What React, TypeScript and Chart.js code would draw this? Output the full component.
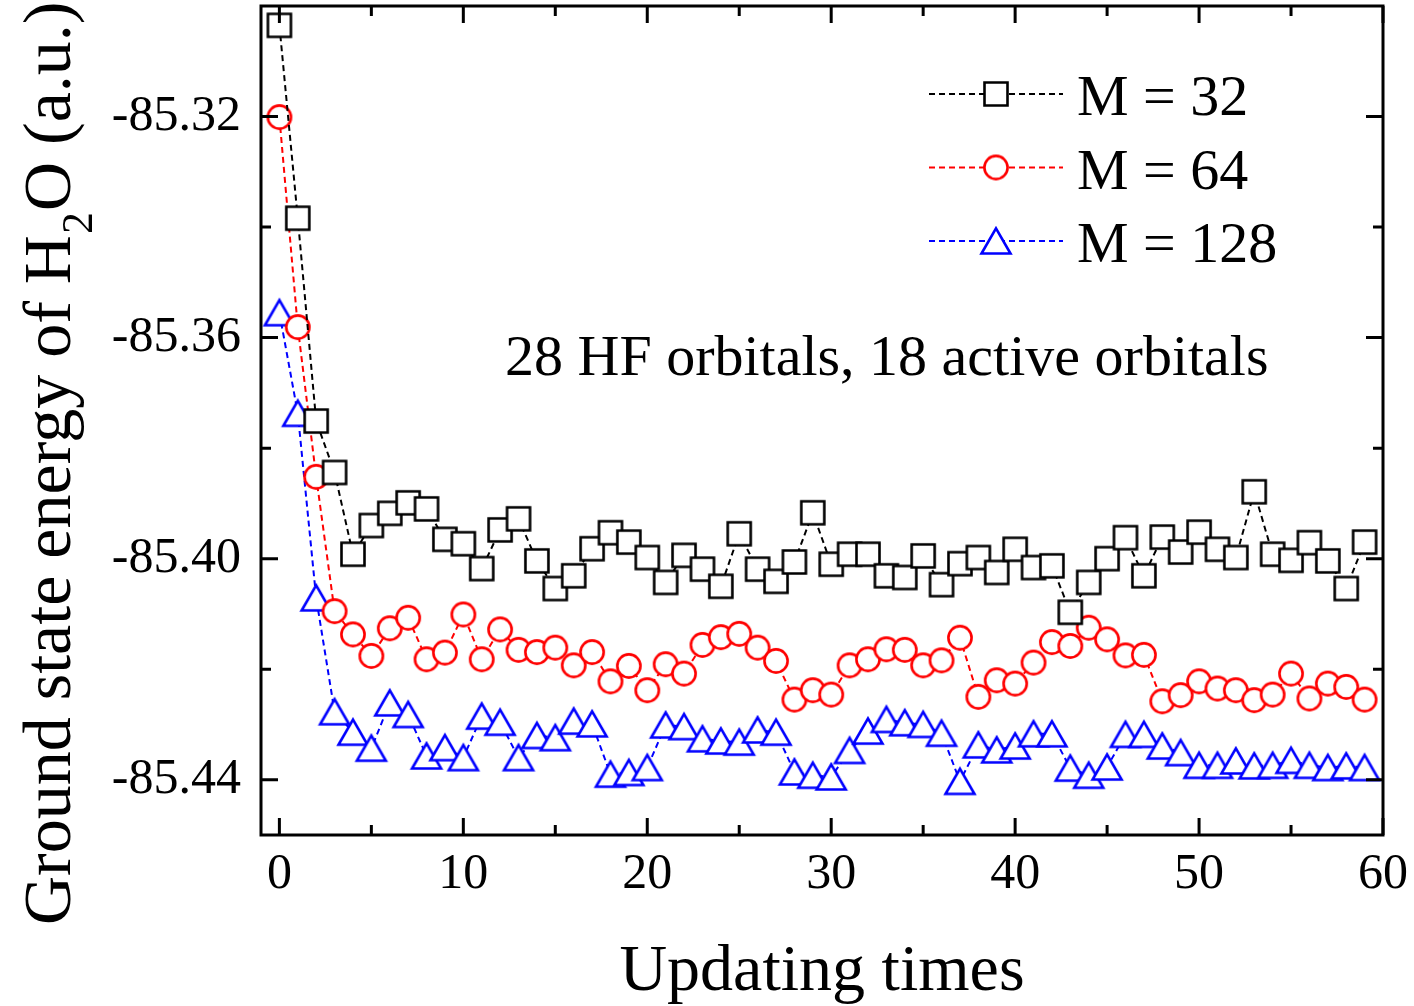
import React, { useEffect, useRef } from "react";
import { Chart, registerables } from "chart.js";

Chart.register(...registerables);

// Updating step index (0..59)
const steps: number[] = Array.from({ length: 60 }, (_, i) => i);

// Ground state energies (a.u.) for each bond dimension M
const energyM32: number[] = [
  -85.3035, -85.3384, -85.3751, -85.3844, -85.3992, -85.3940, -85.3918, -85.3899, -85.3910, -85.3965,
  -85.3973, -85.4018, -85.3948, -85.3928, -85.4004, -85.4054, -85.4031, -85.3982, -85.3953, -85.3970,
  -85.3998, -85.4043, -85.3994, -85.4019, -85.4050, -85.3955, -85.4019, -85.4041, -85.4006, -85.3917,
  -85.4010, -85.3992, -85.3992, -85.4031, -85.4034, -85.3995, -85.4047, -85.4009, -85.3998, -85.4025,
  -85.3983, -85.4016, -85.4013, -85.4097, -85.4043, -85.4000, -85.3962, -85.4031, -85.3961, -85.3988,
  -85.3952, -85.3983, -85.3998, -85.3879, -85.3992, -85.4003, -85.3971, -85.4004, -85.4054, -85.3970,
];
const energyM64: number[] = [
  -85.3201, -85.3581, -85.3852, -85.4095, -85.4137, -85.4176, -85.4126, -85.4107, -85.4182, -85.4170,
  -85.4101, -85.4182, -85.4128, -85.4165, -85.4169, -85.4161, -85.4193, -85.4169, -85.4222, -85.4194,
  -85.4238, -85.4191, -85.4208, -85.4156, -85.4142, -85.4136, -85.4161, -85.4185, -85.4255, -85.4238,
  -85.4246, -85.4193, -85.4182, -85.4164, -85.4165, -85.4193, -85.4184, -85.4143, -85.4250, -85.4220,
  -85.4226, -85.4188, -85.4151, -85.4158, -85.4125, -85.4146, -85.4175, -85.4174, -85.4258, -85.4247,
  -85.4222, -85.4235, -85.4238, -85.4256, -85.4246, -85.4208, -85.4253, -85.4226, -85.4232, -85.4255,
];
const energyM128: number[] = [
  -85.3555, -85.3737, -85.4071, -85.4277, -85.4314, -85.4343, -85.4261, -85.4282, -85.4357, -85.4342,
  -85.4360, -85.4285, -85.4296, -85.4360, -85.4320, -85.4324, -85.4294, -85.4299, -85.4390, -85.4387,
  -85.4378, -85.4301, -85.4304, -85.4326, -85.4330, -85.4332, -85.4310, -85.4314, -85.4386, -85.4392,
  -85.4395, -85.4347, -85.4312, -85.4291, -85.4297, -85.4300, -85.4316, -85.4403, -85.4337, -85.4346,
  -85.4339, -85.4317, -85.4317, -85.4379, -85.4392, -85.4377, -85.4318, -85.4318, -85.4339, -85.4351,
  -85.4374, -85.4374, -85.4366, -85.4375, -85.4374, -85.4365, -85.4374, -85.4378, -85.4375, -85.4378,
];

const seriesLabels: string[] = ["M = 32", "M = 64", "M = 128"];
const seriesColors: string[] = ["#000000", "#ff0000", "#0000ff"];
const seriesMarkers: ("square" | "circle" | "triangle")[] = ["square", "circle", "triangle"];

// Axis ticks
const xMajorTicks: number[] = [0, 10, 20, 30, 40, 50, 60];
const xMinorTicks: number[] = [5, 15, 25, 35, 45, 55];
const yMajorTicks: number[] = [-85.44, -85.40, -85.36, -85.32];
const yMinorTicks: number[] = [-85.42, -85.38, -85.34];

const annotationText = "28 HF orbitals, 18 active orbitals";
const SERIF = "'Liberation Serif', 'Times New Roman', serif";

// Hollow (white filled) marker drawn into a small canvas, centred on its bounding box
function makeMarker(kind: "square" | "circle" | "triangle", color: string): HTMLCanvasElement {
  const c = document.createElement("canvas");
  c.width = 40;
  c.height = 40;
  const g = c.getContext("2d")!;
  g.lineWidth = 2.6;
  g.strokeStyle = color;
  g.fillStyle = "#ffffff";
  g.lineJoin = "miter";
  g.beginPath();
  if (kind === "square") {
    g.rect(20 - 11.5, 20 - 11.5, 23, 23);
  } else if (kind === "circle") {
    g.arc(20, 20, 11.6, 0, Math.PI * 2);
  } else {
    const w = 29;
    const h = w * 0.866;
    g.moveTo(20, 20 - h / 2);
    g.lineTo(20 + w / 2, 20 + h / 2);
    g.lineTo(20 - w / 2, 20 + h / 2);
    g.closePath();
  }
  g.fill();
  g.stroke();
  return c;
}

const noPadding = (s: any) => {
  s.paddingTop = 0;
  s.paddingBottom = 0;
  s.paddingLeft = 0;
  s.paddingRight = 0;
};

export default function App() {
  const canvasRef = useRef<HTMLCanvasElement | null>(null);

  useEffect(() => {
    const canvas = canvasRef.current;
    if (!canvas) return;

    const markers = seriesMarkers.map((m, i) => makeMarker(m, seriesColors[i]));
    const seriesValues = [energyM32, energyM64, energyM128];

    const framePlugin = {
      id: "frameAndText",
      afterDatasetsDraw(chart: any) {
        const { ctx, chartArea } = chart;
        const { left, right, top, bottom } = chartArea;
        const xs = chart.scales.x;
        const ys = chart.scales.y;
        ctx.save();
        ctx.strokeStyle = "#000";
        ctx.lineWidth = 3;
        ctx.lineCap = "butt";
        // inward tick marks on all four sides
        const tick = (vals: number[], len: number, horiz: boolean) => {
          vals.forEach((v) => {
            ctx.beginPath();
            if (horiz) {
              const px = xs.getPixelForValue(v);
              ctx.moveTo(px, bottom);
              ctx.lineTo(px, bottom - len);
              ctx.moveTo(px, top);
              ctx.lineTo(px, top + len);
            } else {
              const py = ys.getPixelForValue(v);
              ctx.moveTo(left, py);
              ctx.lineTo(left + len, py);
              ctx.moveTo(right, py);
              ctx.lineTo(right - len, py);
            }
            ctx.stroke();
          });
        };
        tick(xMajorTicks, 17, true);
        tick(xMinorTicks, 10, true);
        tick(yMajorTicks, 17, false);
        tick(yMinorTicks, 10, false);
        ctx.strokeRect(left, top, right - left, bottom - top);

        // axis titles
        ctx.fillStyle = "#000";
        ctx.textBaseline = "alphabetic";
        ctx.font = `66px ${SERIF}`;
        ctx.textAlign = "center";
        ctx.fillText("Updating times", (left + right) / 2, 990);

        ctx.save();
        ctx.translate(70, 925);
        ctx.rotate(-Math.PI / 2);
        ctx.textAlign = "left";
        ctx.font = `68px ${SERIF}`;
        const partA = "Ground state energy of H";
        ctx.fillText(partA, 0, 0);
        let off = ctx.measureText(partA).width + 1;
        ctx.font = `44px ${SERIF}`;
        ctx.fillText("2", off, 22);
        off += ctx.measureText("2").width + 1;
        ctx.font = `68px ${SERIF}`;
        ctx.fillText("O (a.u.)", off, 0);
        ctx.restore();

        // annotation
        ctx.font = `58px ${SERIF}`;
        ctx.textAlign = "left";
        ctx.fillText(annotationText, 505, 375);

        // legend
        chart.data.datasets.forEach((ds: any, i: number) => {
          const y = 94 + i * 73.5;
          ctx.save();
          ctx.strokeStyle = ds.borderColor;
          ctx.lineWidth = 2;
          ctx.setLineDash([6, 4]);
          ctx.beginPath();
          ctx.moveTo(929, y);
          ctx.lineTo(1063, y);
          ctx.stroke();
          ctx.restore();
          const img = markers[i];
          ctx.drawImage(img, 996 - img.width / 2, y - img.height / 2);
          ctx.fillStyle = "#000";
          ctx.font = `58px ${SERIF}`;
          ctx.textAlign = "left";
          ctx.fillText(ds.label, 1077, y + 21);
        });
        ctx.restore();
      },
    };

    const chart = new Chart(canvas, {
      type: "line",
      data: {
        datasets: seriesLabels.map((label, i) => ({
          label,
          data: steps.map((s, k) => ({ x: s, y: seriesValues[i][k] })),
          borderColor: seriesColors[i],
          backgroundColor: seriesColors[i],
          borderWidth: 2,
          borderDash: [6, 4],
          tension: 0,
          pointStyle: markers[i],
          pointRadius: 12,
          pointHoverRadius: 12,
          fill: false,
        })),
      },
      options: {
        responsive: false,
        animation: false,
        events: [],
        layout: { autoPadding: false, padding: { left: 0, right: 31, top: 6, bottom: 0 } },
        plugins: {
          legend: { display: false },
          tooltip: { enabled: false },
        },
        scales: {
          x: {
            type: "linear",
            min: -1,
            max: 60,
            grid: { display: false, drawTicks: false },
            border: { display: false },
            afterBuildTicks: (s: any) => {
              s.ticks = xMajorTicks.map((value) => ({ value }));
            },
            afterFit: (s: any) => {
              s.height = 171;
              noPadding(s);
            },
            ticks: {
              padding: 10,
              color: "#000",
              maxRotation: 0,
              autoSkip: false,
              font: { family: SERIF, size: 50 },
              callback: (v: any) => String(v),
            },
          },
          y: {
            type: "linear",
            min: -85.45,
            max: -85.3,
            grid: { display: false, drawTicks: false },
            border: { display: false },
            afterBuildTicks: (s: any) => {
              s.ticks = yMajorTicks.map((value) => ({ value }));
            },
            afterFit: (s: any) => {
              s.width = 261;
              noPadding(s);
            },
            ticks: {
              padding: 20,
              color: "#000",
              autoSkip: false,
              font: { family: SERIF, size: 50 },
              callback: (v: any) => Number(v).toFixed(2),
            },
          },
        },
      },
      plugins: [framePlugin],
    });

    return () => {
      chart.destroy();
    };
  }, []);

  return (
    <div style={{ position: "fixed", left: 0, top: 0, width: 1414, height: 1006, background: "#fff" }}>
      <canvas ref={canvasRef} width={1414} height={1006} />
    </div>
  );
}
